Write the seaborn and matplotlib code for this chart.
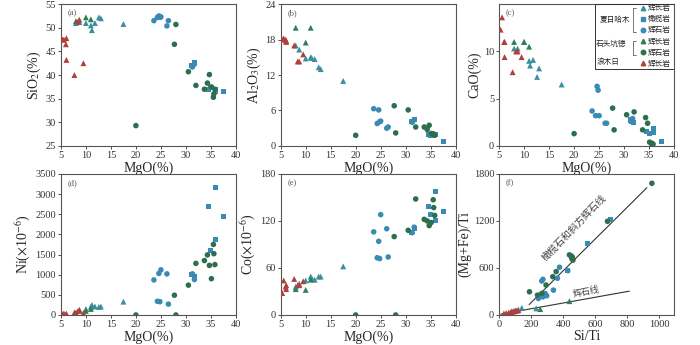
import numpy as np
import pandas as pd
import seaborn as sns
import matplotlib.pyplot as plt
from matplotlib import rcParams
from matplotlib.patches import Rectangle
import matplotlib.lines as mlines

sns.set_theme(style="white", palette=None)
config = {
    "font.family": ["Liberation Serif", "Noto Sans CJK SC"],
    "mathtext.fontset": "stix",
    "axes.unicode_minus": False,
}
rcParams.update(config)

# ---- 数据 ----
# 夏日哈木 辉长岩
xg_mgo  = [8.0, 8.7, 10.0, 11.0, 11.2, 11.8, 12.6, 13.0, 17.5]
xg_sio2 = [51.0, 51.2, 51.0, 50.5, 49.5, 51.0, 52.2, 52.0, 50.8]
xg_al   = [17.0, 16.3, 14.8, 15.0, 14.9, 14.7, 13.3, 13.0, 11.0]
xg_cao  = [10.3, 10.3, 11.0, 9.0, 8.5, 9.1, 7.3, 8.2, 6.5]
xg_ni   = [60, 100, 150, 200, 250, 210, 200, 210, 330]
xg_co   = [36, 40, 44, 49, 47, 45, 49, 49, 62]
# 夏日哈木 橄榄岩
xo_mgo  = [31.2, 31.8, 34.5, 35.0, 35.9, 35.9, 37.5]
xo_sio2 = [42.0, 42.7, 37.0, 37.3, 37.0, 36.6, 36.5]
xo_al   = [4.2, 4.5, 2.0, 1.8, 2.0, 1.9, 0.8]
xo_cao  = [2.8, 2.5, 1.5, 1.3, 1.8, 1.4, 0.5]
xo_ni   = [1000, 950, 2700, 1600, 3170, 1880, 2440]
xo_co   = [105, 110, 138, 128, 158, 120, 132]
# 夏日哈木 辉石岩
xp_mgo  = [23.6, 24.3, 24.6, 25.0, 24.8, 26.2, 26.5, 31.3, 31.7]
xp_sio2 = [51.5, 52.2, 52.5, 52.3, 52.2, 50.4, 51.5, 41.7, 42.3]
xp_al   = [6.3, 3.8, 6.1, 4.2, 4.1, 3.0, 3.2, 4.0, 4.4]
xp_cao  = [3.7, 3.2, 6.3, 3.2, 5.9, 2.4, 2.4, 2.6, 2.9]
xp_ni   = [870, 340, 1030, 1120, 330, 1020, 270, 1020, 880]
xp_co   = [106, 73, 94, 128, 72, 110, 74, 105, 112]
# 石头坑德 辉长岩
sg_mgo  = [8.0, 10.0, 11.0]
sg_sio2 = [51.4, 52.2, 51.8]
sg_al   = [20.0, 17.5, 20.0]
sg_cao  = [11.0, 11.0, 10.5]
sg_ni   = [50, 100, 150]
sg_co   = [33, 32, 45]
# 石头坑德 辉石岩
sp_mgo  = [20.0, 27.7, 28.0, 30.5, 32.0, 33.7, 34.3, 34.7, 35.1, 35.5, 35.6, 35.8]
sp_sio2 = [29.3, 46.5, 50.7, 40.7, 37.8, 37.0, 38.3, 40.1, 37.5, 35.3, 36.0, 37.0]
sp_al   = [1.8, 6.8, 2.2, 6.1, 3.2, 3.2, 2.8, 3.5, 2.1, 2.0, 2.0, 1.8]
sp_cao  = [1.3, 4.0, 1.7, 3.3, 3.6, 1.7, 3.0, 2.4, 0.4, 0.3, 0.1, 0.2]
sp_ni   = [0, 490, 0, 740, 1280, 1350, 1490, 1230, 900, 1750, 1520, 1250]
sp_co   = [0, 100, 0, 108, 148, 122, 120, 114, 118, 147, 137, 127]
# 浪木日 辉长岩
lg_mgo  = [5.3, 5.6, 6.0, 6.1, 6.1, 7.7, 8.4, 8.7, 9.5]
lg_sio2 = [47.5, 47.5, 46.5, 47.8, 43.2, 40.0, 51.3, 51.7, 42.5]
lg_al   = [18.0, 18.2, 18.0, 17.8, 17.6, 17.0, 14.3, 14.3, 15.5]
lg_cao  = [12.3, 13.6, 11.0, 9.4, 11.0, 7.8, 10.0, 10.0, 9.4]
lg_ni   = [20, 40, 10, 30, 20, 60, 100, 130, 50]
lg_co   = [28, 44, 36, 33, 38, 46, 38, 38, 43]

# (f) Si/Ti - (Mg+Fe)/Ti
xg_siti = [142, 232, 100, 120, 80]
xg_mfti = [90, 85, 60, 70, 50]
xo_siti = [553, 695, 430]
xo_mfti = [909, 1217, 566]
xp_siti = [378, 365, 267, 274, 340, 288, 274, 246, 298, 430]
xp_mfti = [609, 468, 433, 455, 317, 275, 231, 210, 245, 566]
sg_siti = [257, 440]
sg_mfti = [75, 176]
sp_siti = [956, 678, 440, 450, 458, 462, 455, 336, 357, 294, 190, 267, 240]
sp_mfti = [1680, 1195, 767, 755, 740, 700, 720, 489, 553, 382, 296, 275, 253]
lg_siti = [30, 45, 60, 70, 80, 90, 100, 110, 120]
lg_mfti = [20, 25, 30, 35, 40, 45, 50, 55, 60]

ol_line_x = [188, 925]
ol_line_y = [133, 1624]
px_line_x = [10, 815]
px_line_y = [10, 304]

groups = [
    # label, marker, color, mgo, sio2, al, cao, ni, co, siti, mfti
    ("辉长岩", "^", "#3a8e9e", xg_mgo, xg_sio2, xg_al, xg_cao, xg_ni, xg_co, xg_siti, xg_mfti),
    ("橄榄岩", "s", "#3a8bb4", xo_mgo, xo_sio2, xo_al, xo_cao, xo_ni, xo_co, xo_siti, xo_mfti),
    ("辉石岩", "o", "#3a8bb4", xp_mgo, xp_sio2, xp_al, xp_cao, xp_ni, xp_co, xp_siti, xp_mfti),
    ("辉长岩", "^", "#2e8050", sg_mgo, sg_sio2, sg_al, sg_cao, sg_ni, sg_co, sg_siti, sg_mfti),
    ("辉石岩", "o", "#2d6e4e", sp_mgo, sp_sio2, sp_al, sp_cao, sp_ni, sp_co, sp_siti, sp_mfti),
    ("辉长岩", "^", "#b0403c", lg_mgo, lg_sio2, lg_al, lg_cao, lg_ni, lg_co, lg_siti, lg_mfti),
]
sizes = {"^": 18, "s": 13, "o": 16}

fig = plt.figure(figsize=(7, 3.45), dpi=100)
pos = {
    "a": [0.087, 0.577, 0.25, 0.411], "b": [0.401, 0.577, 0.25, 0.411],
    "c": [0.713, 0.577, 0.25, 0.411], "d": [0.087, 0.087, 0.25, 0.409],
    "e": [0.401, 0.087, 0.25, 0.409], "f": [0.713, 0.087, 0.25, 0.409],
}
axs = {k: fig.add_axes(v) for k, v in pos.items()}

panels = [
    ("a", 4, r"SiO$_2$(%)", (25, 55), np.arange(25, 56, 5)),
    ("b", 5, r"Al$_2$O$_3$(%)", (0, 24), np.arange(0, 25, 6)),
    ("c", 6, "CaO(%)", (0, 15), [0, 5, 10]),
    ("d", 7, r"Ni($\times$10$^{-6}$)", (0, 3500), np.arange(0, 3501, 500)),
    ("e", 8, r"Co($\times$10$^{-6}$)", (0, 180), [0, 60, 120, 180]),
]

for key, col, ylab, ylim, yt in panels:
    ax = axs[key]
    for g in groups:
        sns.scatterplot(x=g[3], y=g[col], marker=g[1], color=g[2], s=sizes[g[1]],
                        edgecolor="none", linewidth=0, ax=ax, zorder=3)
    ax.set_xlim(5, 40)
    ax.set_xticks(np.arange(5, 41, 5))
    ax.set_ylim(*ylim)
    ax.set_yticks(yt)
    ax.set_xlabel("MgO(%)", fontsize=10, labelpad=1)
    ax.set_ylabel(ylab, fontsize=10, labelpad=2)

# (f)
ax = axs["f"]
ax.plot(ol_line_x, ol_line_y, color="#333333", lw=0.8, zorder=2)
ax.plot(px_line_x, px_line_y, color="#333333", lw=0.8, zorder=2)
for g in groups:
    sns.scatterplot(x=g[9], y=g[10], marker=g[1], color=g[2], s=sizes[g[1]],
                    edgecolor="none", linewidth=0, ax=ax, zorder=3)
ax.set_xlim(0, 1095)
ax.set_xticks(np.arange(0, 1001, 200))
ax.set_ylim(0, 1800)
ax.set_yticks([0, 600, 1200, 1800])
ax.set_xlabel("Si/Ti", fontsize=10, labelpad=1)
ax.set_ylabel("(Mg+Fe)/Ti", fontsize=10, labelpad=2)
ax.text(470, 1110, "橄榄石和斜方辉石线", fontsize=7, rotation=46, color="#444444",
        ha="center", va="center", rotation_mode="anchor")
ax.text(545, 290, "辉石线", fontsize=6.5, rotation=11, color="#444444",
        ha="center", va="center", rotation_mode="anchor")

for key, ax in axs.items():
    ax.text(0.04, 0.965, "(%s)" % key, transform=ax.transAxes, fontsize=6,
            color="#555555", va="top", ha="left")
    ax.tick_params(axis="both", which="major", labelsize=7.5, direction="out",
                   length=2.5, width=0.6, pad=1, bottom=True, left=True, colors="#333333")
    for sp in ax.spines.values():
        sp.set_color("#555555")
        sp.set_linewidth(0.8)

# (c) 图例
ax = axs["c"]
leg_handles = [mlines.Line2D([], [], marker=g[1], color=g[2], linestyle="none",
                             markersize=3.2 if g[1] != "s" else 2.8) for g in groups]
leg = ax.legend(leg_handles, [g[0] for g in groups], loc="upper right",
                bbox_to_anchor=(1.0, 1.02), frameon=False, fontsize=5.5,
                handlelength=0.6, handletextpad=0.4, labelspacing=0.4,
                borderaxespad=0.2, borderpad=0.2)
ax.add_patch(Rectangle((0.549, 0.543), 0.451, 0.457, transform=ax.transAxes,
                       fill=False, ec="#333333", lw=0.7, zorder=5))
ax.text(0.66, 0.886, "夏日哈木", transform=ax.transAxes, fontsize=5.5, ha="center", va="center")
ax.text(0.64, 0.72, "石头坑德", transform=ax.transAxes, fontsize=5.5, ha="center", va="center")
ax.text(0.623, 0.595, "浪木日", transform=ax.transAxes, fontsize=5.5, ha="center", va="center")
for y0, y1 in [(0.97, 0.80), (0.74, 0.64)]:
    ax.plot([0.765, 0.765], [y0, y1], transform=ax.transAxes, color="#444444", lw=0.5)
    ax.plot([0.765, 0.78], [y0, y0], transform=ax.transAxes, color="#444444", lw=0.5)
    ax.plot([0.765, 0.78], [y1, y1], transform=ax.transAxes, color="#444444", lw=0.5)

plt.savefig("out.png", dpi=100)
